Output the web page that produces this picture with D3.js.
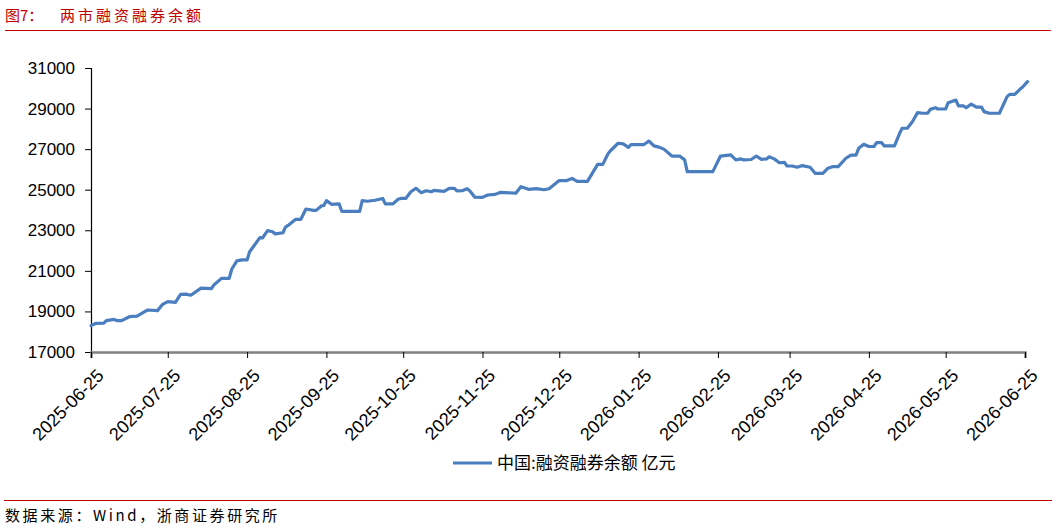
<!DOCTYPE html>
<html>
<head>
<meta charset="utf-8">
<script src="https://cdn.jsdelivr.net/npm/d3@7"></script>
<style>
  body { margin: 0; background: #fff; }
  svg { display: block; }
</style>
</head>
<body>
<div id="chart"></div>
<script>
// 两市融资融券余额 (亿元)
const dates = [
  "2025-06-25","2025-06-27","2025-06-30","2025-07-01","2025-07-04","2025-07-05","2025-07-07",
  "2025-07-10","2025-07-13","2025-07-17","2025-07-21","2025-07-23","2025-07-25","2025-07-28",
  "2025-07-30","2025-08-01","2025-08-03","2025-08-07","2025-08-11","2025-08-12","2025-08-15",
  "2025-08-18","2025-08-19","2025-08-21","2025-08-23","2025-08-25","2025-08-26","2025-08-30",
  "2025-08-31","2025-09-02","2025-09-04","2025-09-05","2025-09-08","2025-09-09","2025-09-10",
  "2025-09-13","2025-09-15","2025-09-17","2025-09-20","2025-09-21","2025-09-23","2025-09-24",
  "2025-09-25","2025-09-27","2025-09-30","2025-10-01","2025-10-08","2025-10-09","2025-10-11",
  "2025-10-14","2025-10-17","2025-10-18","2025-10-21","2025-10-23","2025-10-24","2025-10-26",
  "2025-10-28","2025-10-30","2025-11-01","2025-11-03","2025-11-05","2025-11-06","2025-11-10",
  "2025-11-12","2025-11-14","2025-11-15","2025-11-17","2025-11-19","2025-11-20","2025-11-22",
  "2025-11-25","2025-11-27","2025-11-30","2025-12-02","2025-12-08","2025-12-10","2025-12-13",
  "2025-12-16","2025-12-19","2025-12-21","2025-12-25","2025-12-28","2025-12-30","2026-01-01",
  "2026-01-05","2026-01-09","2026-01-11","2026-01-13","2026-01-14","2026-01-17","2026-01-19",
  "2026-01-21","2026-01-22","2026-01-27","2026-01-29","2026-01-31","2026-02-02","2026-02-04",
  "2026-02-07","2026-02-10","2026-02-12","2026-02-13","2026-02-23","2026-02-26","2026-03-02",
  "2026-03-04","2026-03-06","2026-03-07","2026-03-10","2026-03-12","2026-03-14","2026-03-16",
  "2026-03-17","2026-03-19","2026-03-21","2026-03-23","2026-03-24","2026-03-26","2026-03-28",
  "2026-03-30","2026-04-02","2026-04-04","2026-04-07","2026-04-09","2026-04-11","2026-04-13",
  "2026-04-16","2026-04-18","2026-04-20","2026-04-21","2026-04-23","2026-04-25","2026-04-27",
  "2026-04-28","2026-04-30","2026-05-01","2026-05-05","2026-05-07","2026-05-08","2026-05-10",
  "2026-05-12","2026-05-14","2026-05-16","2026-05-18","2026-05-19","2026-05-21","2026-05-22",
  "2026-05-25","2026-05-26","2026-05-29","2026-05-30","2026-06-01","2026-06-02","2026-06-04",
  "2026-06-06","2026-06-08","2026-06-09","2026-06-11","2026-06-15","2026-06-18","2026-06-19",
  "2026-06-21","2026-06-23","2026-06-24","2026-06-26"
]
const balance = [
  18300,18415,18420,18545,18610,18550,18550,
  18740,18770,19070,19040,19350,19480,19450,
  19840,19850,19800,20150,20120,20300,20630,
  20630,21080,21490,21540,21540,21945,22640,
  22620,22980,22930,22820,22880,23160,23240,
  23540,23540,24050,23980,23980,24200,24220,
  24460,24280,24300,23935,23935,24460,24430,
  24480,24570,24300,24300,24530,24570,24570,
  24900,25070,24855,24950,24900,24970,24920,
  25070,25070,24940,24950,25050,24950,24630,
  24620,24740,24770,24870,24830,25150,25020,
  25050,25000,25050,25450,25450,25560,25410,
  25410,26250,26250,26760,26920,27290,27260,
  27090,27220,27220,27400,27160,27100,26990,
  26660,26660,26470,25890,25890,26660,26720,
  26470,26520,26470,26490,26660,26500,26520,
  26620,26520,26330,26350,26170,26170,26110,
  26190,26110,25810,25810,26060,26140,26140,
  26550,26710,26710,27040,27240,27130,27130,
  27320,27320,27160,27160,27780,28030,28030,
  28350,28800,28770,28770,28960,29040,28980,
  28980,29290,29420,29130,29130,29040,29220,
  29070,29070,28850,28770,28770,29590,29700,
  29700,29950,30050,30330
]
const yTicks = [17000, 19000, 21000, 23000, 25000, 27000, 29000, 31000]
const xTickLabels = [
  "2025-06-25","2025-07-25","2025-08-25","2025-09-25","2025-10-25","2025-11-25","2025-12-25",
  "2026-01-25","2026-02-25","2026-03-25","2026-04-25","2026-05-25","2026-06-25"
]
const seriesName = "中国:融资融券余额 亿元"

const width = 1057
const height = 529
const margin = {left: 91, right: 32, top: 68, bottom: 177}
const lineColor = "#4a7ebf"
const red = "#c00000"
const cjk = "'Noto Sans CJK SC', sans-serif"
const latin = "'Liberation Sans', Arial, sans-serif"

const parse = d3.timeParse("%Y-%m-%d")
const data = dates.map((d, i) => ({date: parse(d), value: balance[i]}))

const svg = d3.select("#chart").append("svg")
  .attr("width", width)
  .attr("height", height)

// title
svg.append("text")
  .attr("x", 5).attr("y", 21)
  .attr("fill", red)
  .style("font-family", cjk).style("font-size", "15px")
  .text("图7：")
svg.append("text")
  .attr("x", 60).attr("y", 21)
  .attr("fill", red)
  .style("font-family", cjk).style("font-size", "15px")
  .style("letter-spacing", "3px")
  .text("两市融资融券余额")
svg.append("line")
  .attr("x1", 5).attr("x2", 1051).attr("y1", 30.5).attr("y2", 30.5)
  .attr("stroke", red).attr("stroke-width", 1.2)

const x = d3.scaleTime()
  .domain([parse("2025-06-25"), parse("2026-06-25")])
  .range([margin.left, width - margin.right])
const y = d3.scaleLinear()
  .domain([17000, 31000])
  .range([height - margin.bottom, margin.top])

const plotBottom = height - margin.bottom

// y axis
const yAxis = svg.append("g")
  .attr("transform", `translate(${margin.left},0)`)
  .call(d3.axisLeft(y).tickValues(yTicks).tickSize(6).tickPadding(10).tickFormat(d3.format("d")))
yAxis.select(".domain").attr("stroke", "#000").attr("stroke-width", 1.2)
yAxis.selectAll(".tick line").attr("stroke", "#000")
yAxis.selectAll("text")
  .style("font-family", latin).style("font-size", "17px").attr("fill", "#000")

// x axis
const xAxis = svg.append("g")
  .attr("transform", `translate(0,${plotBottom})`)
  .call(d3.axisBottom(x).tickValues(xTickLabels.map(parse)).tickSize(6)
    .tickFormat(d3.timeFormat("%Y-%m-%d")))
xAxis.select(".domain").attr("stroke", "#808080").attr("stroke-width", 2.5)
xAxis.selectAll(".tick line").attr("stroke", "#000")
xAxis.selectAll("text")
  .style("font-family", latin).style("font-size", "18px").attr("fill", "#000")
  .attr("text-anchor", "end")
  .attr("dx", "-8").attr("dy", "18")
  .attr("transform", "rotate(-45)")

// series
const line = d3.line()
  .x(d => x(d.date))
  .y(d => y(d.value))
svg.append("path")
  .datum(data)
  .attr("fill", "none")
  .attr("stroke", lineColor)
  .attr("stroke-width", 3.2)
  .attr("stroke-linejoin", "round")
  .attr("stroke-linecap", "round")
  .attr("d", line)

// legend
svg.append("line")
  .attr("x1", 453).attr("x2", 492).attr("y1", 463).attr("y2", 463)
  .attr("stroke", lineColor).attr("stroke-width", 3.2)
svg.append("text")
  .attr("x", 497).attr("y", 469)
  .style("font-family", cjk).style("font-size", "17px").attr("fill", "#000")
  .text(seriesName)

// footer
svg.append("line")
  .attr("x1", 4).attr("x2", 1052).attr("y1", 500.5).attr("y2", 500.5)
  .attr("stroke", red).attr("stroke-width", 1.2)
svg.append("text")
  .attr("x", 5).attr("y", 521)
  .style("font-family", cjk).style("font-size", "15px").attr("fill", "#000")
  .style("letter-spacing", "2.6px")
  .text("数据来源：Wind，浙商证券研究所")
</script>
</body>
</html>
